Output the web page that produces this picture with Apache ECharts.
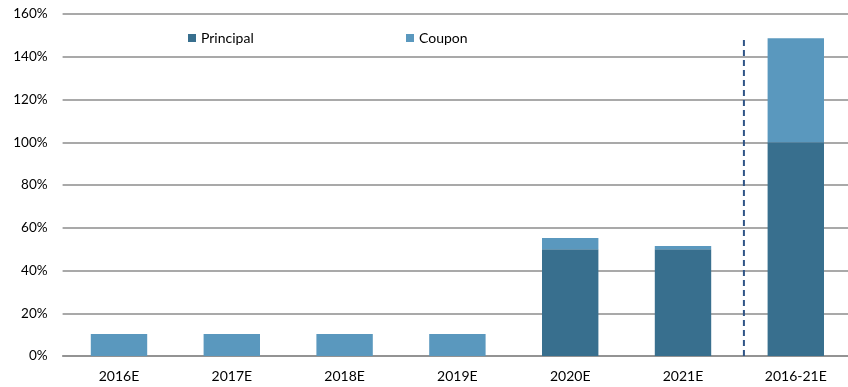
<!DOCTYPE html>
<html><head><meta charset="utf-8">
<script src="https://cdn.jsdelivr.net/npm/echarts@6/dist/echarts.min.js"></script>
<style>html,body{margin:0;padding:0;background:#fff}#c{width:848px;height:387px}</style>
</head><body><div id="c"></div>
<script>
const categories = ['2016E','2017E','2018E','2019E','2020E','2021E','2016-21E'];
const principal = [0, 0, 0, 0, 50, 50, 100];
const coupon = [10.3, 10.3, 10.3, 10.3, 5.2, 1.5, 48.6];
const yTicks = [0, 20, 40, 60, 80, 100, 120, 140, 160];
const dividerPos = 5.54;
const dividerTop = 148.6;

const chart = echarts.init(document.getElementById('c'));
const font = 'Lato, "Open Sans", sans-serif';
chart.setOption({
  animation: false,
  textStyle: { fontFamily: font },
  grid: { left: 62.6, width: 789.6, top: 14, bottom: 31, containLabel: false, outerBoundsMode: 'none' },
  legend: [
    { data: ['Principal'], left: 183, top: 26, icon: 'rect', itemWidth: 8, itemHeight: 8, itemGap: 5,
      textStyle: { fontFamily: font, fontSize: 14, color: '#000' } },
    { data: ['Coupon'], left: 401, top: 26, icon: 'rect', itemWidth: 8, itemHeight: 8, itemGap: 5,
      textStyle: { fontFamily: font, fontSize: 14, color: '#000' } }
  ],
  xAxis: [{
    type: 'category', data: categories,
    axisLine: { show: true, lineStyle: { color: '#8c8c8c', width: 1.5 } },
    axisTick: { show: false },
    axisLabel: { color: '#000', fontSize: 14, margin: 13, fontFamily: font }
  }, {
    type: 'value', min: -0.5, max: categories.length - 0.5, show: false
  }],
  yAxis: {
    type: 'value', min: yTicks[0], max: yTicks[yTicks.length - 1], interval: 20,
    axisLine: { show: false }, axisTick: { show: false },
    axisLabel: { color: '#000', fontSize: 13.5, margin: 15, fontFamily: font, formatter: v => v + '%' },
    splitLine: { lineStyle: { color: '#8c8c8c', width: 1.5 } }
  },
  series: [
    { name: 'Principal', type: 'bar', stack: 'a', data: principal, barWidth: '50%',
      itemStyle: { color: '#386F8E' } },
    { name: 'Coupon', type: 'bar', stack: 'a', data: coupon, barWidth: '50%',
      itemStyle: { color: '#5A98BE' } },
    { name: 'divider', type: 'line', xAxisIndex: 1, symbol: 'none', silent: true,
      data: [[dividerPos, 0], [dividerPos, dividerTop]],
      lineStyle: { color: '#2F5486', type: [6, 4], width: 2 }, z: 5 }
  ]
});
</script></body></html>
